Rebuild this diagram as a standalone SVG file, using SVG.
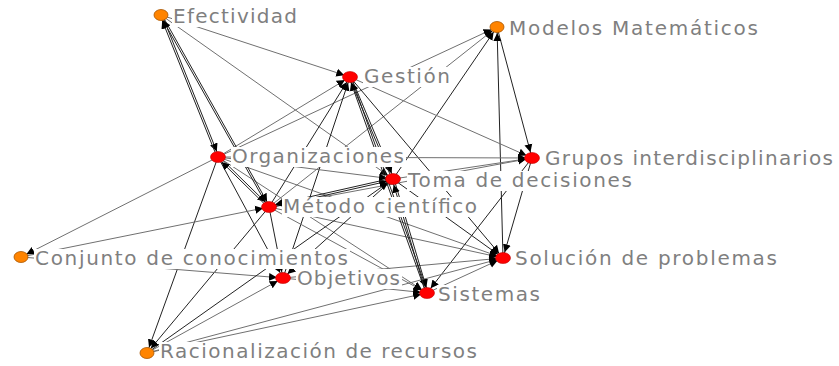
<svg xmlns="http://www.w3.org/2000/svg" width="839" height="366" viewBox="0 0 839 366">
<defs>
<style>
.e{stroke:#707070;stroke-width:1;fill:none;marker-end:url(#ah)}
.d{stroke:#222;stroke-width:1;fill:none;marker-end:url(#ah)}
.bg{fill:#fff}
.lb{font-family:"DejaVu Sans",sans-serif;font-size:20px;fill:#7f7f7f}
.r{fill:#ff0000;stroke:#c00000;stroke-width:0.6}
.o{fill:#ff8400;stroke:#a85500;stroke-width:0.8}
</style>
<marker id="ah" viewBox="0 0 22 10" refX="14" refY="5" markerWidth="22" markerHeight="10" markerUnits="userSpaceOnUse" orient="auto">
<path d="M0,1 L8,5 L0,9 z" fill="#000"/>
</marker>
</defs>
<rect width="839" height="366" fill="#fff"/>
<g id="connectors">
<line class="e" x1="161" y1="15" x2="350" y2="77"/>
<line class="e" x1="161" y1="15" x2="393" y2="179"/>
<line class="e" x1="218" y1="157" x2="497" y2="27"/>
<line class="e" x1="269" y1="207" x2="497" y2="27"/>
<line class="d" x1="393" y1="179" x2="497" y2="27"/>
<line class="d" x1="497" y1="27" x2="532" y2="158"/>
<line class="d" x1="503" y1="258" x2="497" y2="27"/>
<line class="e" x1="350" y1="77" x2="532" y2="158"/>
<line class="e" x1="218" y1="157" x2="350" y2="77"/>
<line class="d" x1="269" y1="207" x2="350" y2="77"/>
<line class="d" x1="283" y1="278" x2="350" y2="77"/>
<line class="d" x1="350" y1="77" x2="503" y2="258"/>
<line class="e" x1="218" y1="157" x2="21" y2="257"/>
<line class="e" x1="218" y1="157" x2="532" y2="158"/>
<line class="e" x1="218" y1="157" x2="393" y2="179"/>
<line class="e" x1="218" y1="157" x2="503" y2="258"/>
<line class="e" x1="218" y1="157" x2="427" y2="293"/>
<line class="d" x1="218" y1="157" x2="283" y2="278"/>
<line class="d" x1="218" y1="157" x2="147" y2="353"/>
<line class="e" x1="21" y1="257" x2="269" y2="207"/>
<line class="e" x1="269" y1="207" x2="532" y2="158"/>
<line class="e" x1="393" y1="179" x2="532" y2="158"/>
<line class="d" x1="269" y1="207" x2="283" y2="278"/>
<line class="d" x1="269" y1="207" x2="147" y2="353"/>
<line class="e" x1="269" y1="207" x2="503" y2="258"/>
<line class="e" x1="269" y1="207" x2="427" y2="293"/>
<line class="d" x1="393" y1="179" x2="503" y2="258"/>
<line class="d" x1="393" y1="179" x2="283" y2="278"/>
<line class="d" x1="532" y1="158" x2="503" y2="258"/>
<line class="d" x1="532" y1="158" x2="427" y2="293"/>
<line class="e" x1="21" y1="257" x2="283" y2="278"/>
<line class="e" x1="147" y1="353" x2="283" y2="278"/>
<line class="e" x1="283" y1="278" x2="503" y2="258"/>
<line class="e" x1="283" y1="278" x2="427" y2="293"/>
<line class="e" x1="427" y1="293" x2="503" y2="258"/>
<line class="e" x1="147" y1="353" x2="427" y2="293"/>
<line class="e" x1="147" y1="353" x2="503" y2="258"/>
<line class="d" x1="147" y1="353" x2="393" y2="179"/>
<line class="d" x1="162" y1="15" x2="219" y2="157"/>
<line class="d" x1="217" y1="157" x2="160" y2="15"/>
<line class="d" x1="162" y1="15" x2="270" y2="207"/>
<line class="d" x1="268" y1="207" x2="160" y2="15"/>
<line class="d" x1="351" y1="77" x2="394" y2="179"/>
<line class="d" x1="392" y1="179" x2="349" y2="77"/>
<line class="d" x1="351" y1="77" x2="428" y2="293"/>
<line class="d" x1="426" y1="293" x2="349" y2="77"/>
<line class="d" x1="218.7" y1="156.3" x2="269.7" y2="206.3"/>
<line class="d" x1="268.3" y1="207.7" x2="217.3" y2="157.7"/>
<line class="d" x1="269" y1="208" x2="393" y2="180"/>
<line class="d" x1="393" y1="178" x2="269" y2="206"/>
<line class="d" x1="394" y1="179" x2="428" y2="293"/>
<line class="d" x1="426" y1="293" x2="392" y2="179"/>
</g>
<g id="n-efectividad"><rect class="bg" x="172" y="7" width="127" height="20"/><ellipse class="o" cx="161" cy="15" rx="7" ry="5.5"/><text class="lb" x="173" y="23" textLength="124" lengthAdjust="spacing">Efectividad</text></g>
<g id="n-modelos"><rect class="bg" x="508" y="19" width="252" height="20"/><ellipse class="o" cx="497" cy="27" rx="7" ry="5.5"/><text class="lb" x="509" y="35" textLength="249" lengthAdjust="spacing">Modelos Matemáticos</text></g>
<g id="n-gestion"><rect class="bg" x="363" y="67" width="89" height="20"/><ellipse class="r" cx="350" cy="77" rx="7.5" ry="5.5"/><text class="lb" x="364" y="83" textLength="86" lengthAdjust="spacing">Gestión</text></g>
<g id="n-organizaciones"><rect class="bg" x="231" y="147" width="175" height="20"/><ellipse class="r" cx="218" cy="157" rx="7.5" ry="5.5"/><text class="lb" x="232" y="163" textLength="172" lengthAdjust="spacing">Organizaciones</text></g>
<g id="n-grupos"><rect class="bg" x="544" y="149" width="291" height="20"/><ellipse class="r" cx="532" cy="158" rx="7.5" ry="5.5"/><text class="lb" x="545" y="165" textLength="288" lengthAdjust="spacing">Grupos interdisciplinarios</text></g>
<g id="n-toma"><rect class="bg" x="407" y="171" width="227" height="20"/><ellipse class="r" cx="393" cy="179" rx="7.5" ry="5.5"/><text class="lb" x="408" y="187" textLength="224" lengthAdjust="spacing">Toma de decisiones</text></g>
<g id="n-metodo"><rect class="bg" x="282" y="197" width="197" height="20"/><ellipse class="r" cx="269" cy="207" rx="7.5" ry="5.5"/><text class="lb" x="283" y="213" textLength="194" lengthAdjust="spacing">Método científico</text></g>
<g id="n-conjunto"><rect class="bg" x="34" y="249" width="316" height="20"/><ellipse class="o" cx="21" cy="257" rx="7" ry="5.5"/><text class="lb" x="35" y="265" textLength="313" lengthAdjust="spacing">Conjunto de conocimientos</text></g>
<g id="n-solucion"><rect class="bg" x="514" y="249" width="265" height="20"/><ellipse class="r" cx="503" cy="258" rx="7.5" ry="5.5"/><text class="lb" x="515" y="265" textLength="262" lengthAdjust="spacing">Solución de problemas</text></g>
<g id="n-objetivos"><rect class="bg" x="296" y="269" width="106" height="20"/><ellipse class="r" cx="283" cy="278" rx="7.5" ry="5.5"/><text class="lb" x="297" y="285" textLength="103" lengthAdjust="spacing">Objetivos</text></g>
<g id="n-sistemas"><rect class="bg" x="437" y="285" width="105" height="20"/><ellipse class="r" cx="427" cy="293" rx="7.5" ry="5.5"/><text class="lb" x="438" y="301" textLength="102" lengthAdjust="spacing">Sistemas</text></g>
<g id="n-racionalizacion"><rect class="bg" x="159" y="342" width="320" height="20"/><ellipse class="o" cx="147" cy="353" rx="7" ry="5.5"/><text class="lb" x="160" y="358" textLength="317" lengthAdjust="spacing">Racionalización de recursos</text></g>
</svg>
